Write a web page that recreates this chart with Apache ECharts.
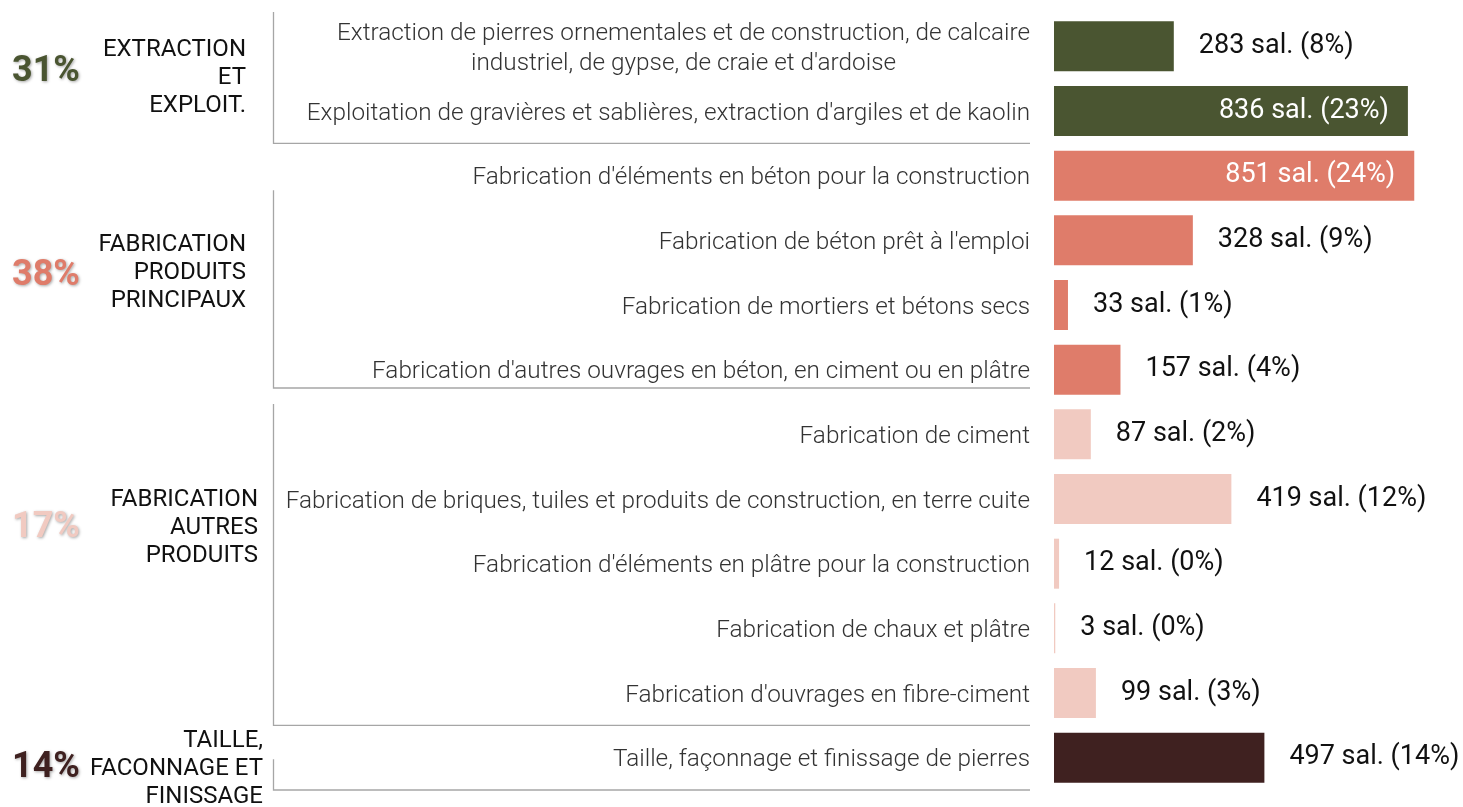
<!DOCTYPE html>
<html>
<head>
<meta charset="utf-8">
<script src="https://cdn.jsdelivr.net/npm/echarts@6/dist/echarts.min.js"></script>
<style>
  html, body { margin: 0; padding: 0; background: #fff; }
  #main { width: 1463px; height: 807px; }
</style>
</head>
<body>
<div id="main"></div>
<script>
// categories (top to bottom)
var categories = [
  "Extraction de pierres ornementales et de construction, de calcaire\nindustriel, de gypse, de craie et d'ardoise",
  "Exploitation de gravières et sablières, extraction d'argiles et de kaolin",
  "Fabrication d'éléments en béton pour la construction",
  "Fabrication de béton prêt à l'emploi",
  "Fabrication de mortiers et bétons secs",
  "Fabrication d'autres ouvrages en béton, en ciment ou en plâtre",
  "Fabrication de ciment",
  "Fabrication de briques, tuiles et produits de construction, en terre cuite",
  "Fabrication d'éléments en plâtre pour la construction",
  "Fabrication de chaux et plâtre",
  "Fabrication d'ouvrages en fibre-ciment",
  "Taille, façonnage et finissage de pierres"
];
var salaries = [283, 836, 851, 328, 33, 157, 87, 419, 12, 3, 99, 497];
var percents = [8, 23, 24, 9, 1, 4, 2, 12, 0, 0, 3, 14];
var groupOf = [0, 0, 1, 1, 1, 1, 2, 2, 2, 2, 2, 3];

var groupNames = ["EXTRACTION\nET\nEXPLOIT.", "FABRICATION\nPRODUITS\nPRINCIPAUX", "FABRICATION\nAUTRES\nPRODUITS", "TAILLE,\nFACONNAGE ET\nFINISSAGE"];
var groupPercents = ["31%", "38%", "17%", "14%"];
var groupColors = ["#4a5531", "#df7c6a", "#f1cac1", "#3f2120"];

var gridTop = 14, gridHeight = 776;
var band = gridHeight / categories.length;
function yAt(idx) { return gridTop + (idx + 0.5) * band + 3; }

var myChart = echarts.init(document.getElementById('main'));

var barData = [];
for (var i = 0; i < salaries.length; i++) {
  var big = salaries[i] > 800;
  barData.push({
    value: salaries[i],
    itemStyle: { color: groupColors[groupOf[i]] },
    label: big ? { position: 'insideRight', distance: 19, color: '#fff' } : { position: 'right', distance: 25, color: '#111' }
  });
}

// brackets: [firstIdx, lastIdx, topOffset, bottomOffset] in px
var brackets = [[0, 1, -2, 0], [2, 5, 47, -14], [6, 10, 2, 0], [11, 11, 34, 0]];
// anchors in category index units: percent, name; then name right edge
var labelPos = [[0.343, 0.443, 246], [3.505, 3.459, 246], [7.402, 7.402, 258], [11.113, 11.129, 263]];

var graphics = [];
brackets.forEach(function (b) {
  var y1 = gridTop + b[0] * band + b[2];
  var y2 = gridTop + (b[1] + 1) * band + b[3];
  graphics.push({
    type: 'polyline', silent: true,
    shape: { points: [[273.5, y1], [273.5, y2], [1030, y2]] },
    style: { stroke: '#a6a6a6', lineWidth: 1.3, fill: null }
  });
});
labelPos.forEach(function (p, g) {
  graphics.push({
    type: 'text', silent: true, x: 12, y: yAt(p[0]),
    style: {
      text: groupPercents[g], font: 'bold 36px Roboto', fill: groupColors[g],
      textVerticalAlign: 'middle', textAlign: 'left',
      textShadowColor: 'rgba(0,0,0,0.35)', textShadowBlur: 3, textShadowOffsetX: 1, textShadowOffsetY: 1
    }
  });
  graphics.push({
    type: 'text', silent: true, x: p[2], y: yAt(p[1]),
    style: {
      text: groupNames[g], font: '24px Roboto', fill: '#111', lineHeight: 28,
      textVerticalAlign: 'middle', textAlign: 'right'
    }
  });
});

var option = {
  animation: false,
  grid: { left: 1054, right: 28, top: gridTop, height: gridHeight },
  xAxis: {
    type: 'value', min: 0, max: 900, show: false
  },
  yAxis: {
    type: 'category', inverse: true, data: categories,
    axisLine: { show: false }, axisTick: { show: false },
    axisLabel: {
      margin: 24, fontFamily: 'Roboto', fontWeight: 300, fontSize: 24.3, color: '#333', lineHeight: 30,
      padding: [5, 0, 0, 0],
      formatter: function (v) {
        if (v.indexOf('\n') < 0) return v;
        return v.split('\n').map(function (s) { return '{c|' + s + '}'; }).join('\n');
      },
      rich: { c: { align: 'center', fontFamily: 'Roboto', fontWeight: 300, fontSize: 24.3, color: '#333', lineHeight: 30 } }
    }
  },
  series: [{
    type: 'bar', barWidth: 50, data: barData,
    label: {
      show: true, fontFamily: 'Roboto', fontSize: 27, padding: [5, 0, 0, 0],
      formatter: function (p) { return p.value + ' sal. (' + percents[p.dataIndex] + '%)'; }
    }
  }],
  graphic: graphics
};

myChart.setOption(option);
</script>
</body>
</html>
